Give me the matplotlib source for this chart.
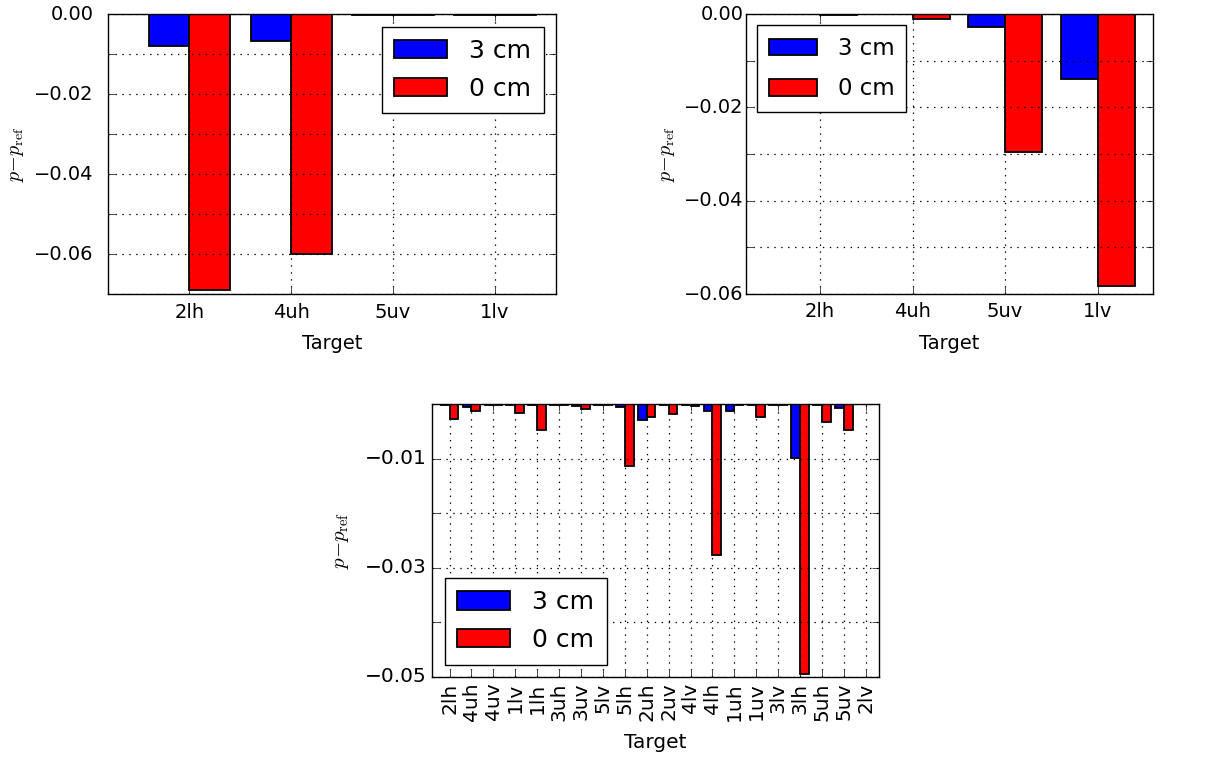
import numpy as np
import matplotlib
matplotlib.use("Agg")
import matplotlib.pyplot as plt

plt.style.use("classic")
plt.rcParams["figure.facecolor"] = "white"
plt.rcParams["savefig.facecolor"] = "white"
plt.rcParams["mathtext.fontset"] = "cm"
plt.rcParams["font.family"] = ["DejaVu Sans"]

# ---- data ----
cats_a = ["2lh", "4uh", "5uv", "1lv"]
a_3cm = [-0.0079, -0.0067, -0.0002, -0.0002]
a_0cm = [-0.0689, -0.0600, -0.0002, -0.0002]

cats_b = ["2lh", "4uh", "5uv", "1lv"]
b_3cm = [-0.0001, -0.0001, -0.0027, -0.0139]
b_0cm = [-0.0002, -0.0010, -0.0296, -0.0582]

cats_c = ["2lh", "4uh", "4uv", "1lv", "1lh", "3uh", "3uv", "5lv", "5lh", "2uh",
          "2uv", "4lv", "4lh", "1uh", "1uv", "3lv", "3lh", "5uh", "5uv", "2lv"]
c_3cm = [-0.0001, -0.0006, -0.0001, -0.0001, -0.0001, -0.0001, -0.0004, -0.0002,
         -0.0005, -0.0029, -0.0001, -0.0002, -0.0013, -0.0013, -0.0001, -0.0001,
         -0.0099, -0.0001, -0.0008, 0.0]
c_0cm = [-0.0027, -0.0012, -0.0001, -0.0016, -0.0047, -0.0001, -0.0010, -0.0001,
         -0.0113, -0.0023, -0.0018, -0.0003, -0.0276, -0.0001, -0.0023, -0.0001,
         -0.0494, -0.0033, -0.0048, 0.0]

labels = ["3 cm", "0 cm"]
colors = ["b", "r"]

W, H = 1211, 758
fig = plt.figure(figsize=(W / 100, H / 100), dpi=100)


def box(l, t, r, b):
    return [l / W, 1 - b / H, (r - l) / W, (b - t) / H]


def panel(rect, cats, v3, v0, ymin, yticks, ylabs, loc, tick_fs, lab_fs, leg_fs,
          xpad, ypad, xlpad, ylpad, lspace, bpad, rot=0):
    ax = fig.add_axes(rect)
    x = np.arange(len(cats))
    w = 0.4
    ax.bar(x - w, v3, w, align="edge", color=colors[0], edgecolor="k",
           linewidth=1.3, label=labels[0])
    ax.bar(x, v0, w, align="edge", color=colors[1], edgecolor="k",
           linewidth=1.3, label=labels[1])
    ax.set_xlim(-0.8, len(cats) - 0.4)
    ax.set_ylim(ymin, 0)
    ax.set_xticks(x)
    ax.set_xticklabels(cats, rotation=rot, fontsize=tick_fs)
    ax.set_yticks(yticks)
    ax.set_yticklabels(ylabs, fontsize=tick_fs)
    ax.tick_params(axis="x", which="major", pad=xpad, length=5)
    ax.tick_params(axis="y", which="major", pad=ypad, length=5)
    ax.grid(True, color="k", linestyle=(0, (1, 4)), linewidth=0.9)
    ax.set_xlabel("Target", fontsize=lab_fs, labelpad=xlpad)
    ax.set_ylabel(r"$p{-}p_{\rm ref}$", fontsize=lab_fs + 0.5, labelpad=ylpad)
    ax.legend(loc=loc, fontsize=leg_fs, borderaxespad=0.5, borderpad=bpad,
              labelspacing=lspace, handlelength=2.1, handletextpad=0.9,
              handleheight=0.75)
    return ax


def fmt(v):
    return ("%.2f" % v).replace("-", "\u2212")


ya = [-0.07 + 0.01 * i for i in range(8)]
ya_l = [fmt(v) if i % 2 == 1 else "" for i, v in enumerate(ya)]
panel(box(108, 14, 556, 294), cats_a, a_3cm, a_0cm, -0.07, ya, ya_l,
      "upper right", 14, 14, 18, 6.5, 10.5, 8.5, 6, 0.55, 0.5)

yb = [-0.06 + 0.01 * i for i in range(7)]
yb_l = [fmt(v) if i % 2 == 0 else "" for i, v in enumerate(yb)]
panel(box(746, 14, 1153, 294), cats_b, b_3cm, b_0cm, -0.06, yb, yb_l,
      "upper left", 14, 14, 16.5, 6, 1.5, 9, 5, 0.75, 0.5)

yc = [-0.05 + 0.01 * i for i in range(6)]
yc_l = [fmt(v) if i % 2 == 0 else "" for i, v in enumerate(yc)]
panel(box(432, 404, 879, 677), cats_c, c_3cm, c_0cm, -0.05, yc, yc_l,
      "lower left", 14.5, 14.5, 18, 4, 4, 8.5, 10, 0.55, 0.5, rot=90)

fig.savefig("out.png", dpi=100)
